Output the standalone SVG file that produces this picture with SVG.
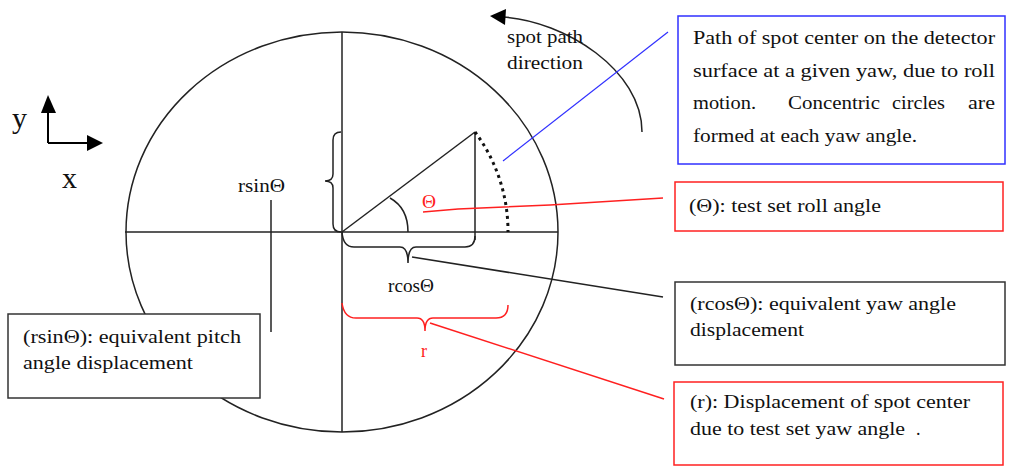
<svg xmlns="http://www.w3.org/2000/svg" width="1009" height="467" viewBox="0 0 1009 467">
<style>
.t{font-family:"Liberation Serif","Times New Roman",serif;font-size:18px;fill:#111}
.big{font-size:30px}
.small{font-size:16px}
.tr{font-family:"Liberation Serif","Times New Roman",serif;font-size:18px;fill:#ff2020}
.ln{fill:none;stroke:#222;stroke-width:1.5}
.rd{fill:none;stroke:#ff2020;stroke-width:1.5}
.bl{fill:none;stroke:#3030ff;stroke-width:1.2}
.box{fill:#fff;stroke-width:1.5}
</style>
<rect width="1009" height="467" fill="#fff"/>
<g id="diagram">
  <ellipse cx="342" cy="232" rx="216" ry="200" class="ln"/>
  <line x1="342" y1="32" x2="342" y2="432" class="ln"/>
  <line x1="125" y1="232" x2="558" y2="232" class="ln"/>
  <line x1="342" y1="232" x2="475" y2="132" class="ln"/>
  <line x1="475" y1="132" x2="475" y2="240" class="ln"/>
  <path d="M390 198 Q408 208 408 232" class="ln"/>
  <path d="M475 132 A166 166 0 0 1 508 232" fill="none" stroke="#111" stroke-width="3" stroke-dasharray="3 4"/>
  <path d="M341 132 Q333 132 333 140 L333 174 Q333 181 325 181 Q333 181 333 188 L333 224 Q333 232 341 232" class="ln"/>
  <path d="M342 232 Q343 247 354 247 L400 247 Q408 247 408 263 Q408 247 416 247 L465 247 Q475 247 475 236" class="ln"/>
  <path d="M342 303 Q344 318 356 318 L417 318 Q425 318 425 331 Q425 318 433 318 L496 318 Q508 318 508 305" class="rd"/>
  <text class="t" x="238" y="192" textLength="47" lengthAdjust="spacingAndGlyphs">rsinΘ</text>
  <text class="t" x="388" y="292" textLength="46" lengthAdjust="spacingAndGlyphs">rcosΘ</text>
  <text class="tr small" x="422" y="208" textLength="14" lengthAdjust="spacingAndGlyphs">Θ</text>
  <text class="tr" x="421" y="357">r</text>
</g>
<g id="axes">
  <line x1="48" y1="143" x2="48" y2="110" stroke="#000" stroke-width="2"/>
  <polygon points="48,95 41,113 56,113" fill="#000"/>
  <line x1="48" y1="143" x2="89" y2="143" stroke="#000" stroke-width="2"/>
  <polygon points="103,143 87,135 87,151" fill="#000"/>
  <text class="t big" x="12" y="128">y</text>
  <text class="t big" x="62" y="188">x</text>
</g>
<g id="spot-path-direction">
  <path d="M503 17 C565 21 642 70 642 132" class="ln"/>
  <polygon points="490,16 506,9 505,25" fill="#000"/>
  <text class="t" x="507" y="43" textLength="76" lengthAdjust="spacingAndGlyphs">spot path</text>
  <text class="t" x="507" y="69" textLength="76" lengthAdjust="spacingAndGlyphs">direction</text>
</g>
<g id="connectors">
  <line x1="503" y1="161" x2="668" y2="32" class="bl"/>
  <polyline points="423,212 458,209 550,205 663,198" class="rd"/>
  <line x1="412" y1="257" x2="663" y2="297" class="ln"/>
  <line x1="430" y1="323" x2="664" y2="399" class="rd"/>
  <line x1="271" y1="200" x2="271" y2="332" class="ln"/>
</g>
<g id="node-path">
  <rect x="678" y="16" width="327" height="148" class="box" stroke="#3030ff"/>
  <text class="t" x="693" y="44" textLength="302" lengthAdjust="spacingAndGlyphs">Path of spot center on the detector</text>
  <text class="t" x="693" y="77" textLength="302" lengthAdjust="spacingAndGlyphs">surface at a given yaw, due to roll</text>
  <text class="t" x="693" y="109" textLength="63" lengthAdjust="spacingAndGlyphs">motion.</text>
  <text class="t" x="788" y="109" textLength="92" lengthAdjust="spacingAndGlyphs">Concentric</text>
  <text class="t" x="892" y="109" textLength="53" lengthAdjust="spacingAndGlyphs">circles</text>
  <text class="t" x="968" y="109" textLength="27" lengthAdjust="spacingAndGlyphs">are</text>
  <text class="t" x="693" y="142" textLength="224" lengthAdjust="spacingAndGlyphs">formed at each yaw angle.</text>
</g>
<g id="node-roll">
  <rect x="675" y="182" width="328" height="49" class="box" stroke="#ff2020"/>
  <text class="t" x="689" y="212" textLength="192" lengthAdjust="spacingAndGlyphs">(Θ): test set roll angle</text>
</g>
<g id="node-yaw">
  <rect x="675" y="282" width="330" height="83" class="box" stroke="#333"/>
  <text class="t" x="690" y="310" textLength="266" lengthAdjust="spacingAndGlyphs">(rcosΘ): equivalent yaw angle</text>
  <text class="t" x="690" y="336" textLength="114" lengthAdjust="spacingAndGlyphs">displacement</text>
</g>
<g id="node-displacement">
  <rect x="674" y="382" width="329" height="83" class="box" stroke="#ff2020"/>
  <text class="t" x="690" y="408" textLength="280" lengthAdjust="spacingAndGlyphs">(r): Displacement of spot center</text>
  <text class="t" x="690" y="435" textLength="215" lengthAdjust="spacingAndGlyphs">due to test set yaw angle</text>
  <text class="t" x="916" y="435">.</text>
</g>
<g id="node-pitch">
  <rect x="8" y="314" width="252" height="84" class="box" stroke="#333"/>
  <text class="t" x="23" y="343" textLength="218" lengthAdjust="spacingAndGlyphs">(rsinΘ): equivalent pitch</text>
  <text class="t" x="23" y="369" textLength="170" lengthAdjust="spacingAndGlyphs">angle displacement</text>
</g>
</svg>
